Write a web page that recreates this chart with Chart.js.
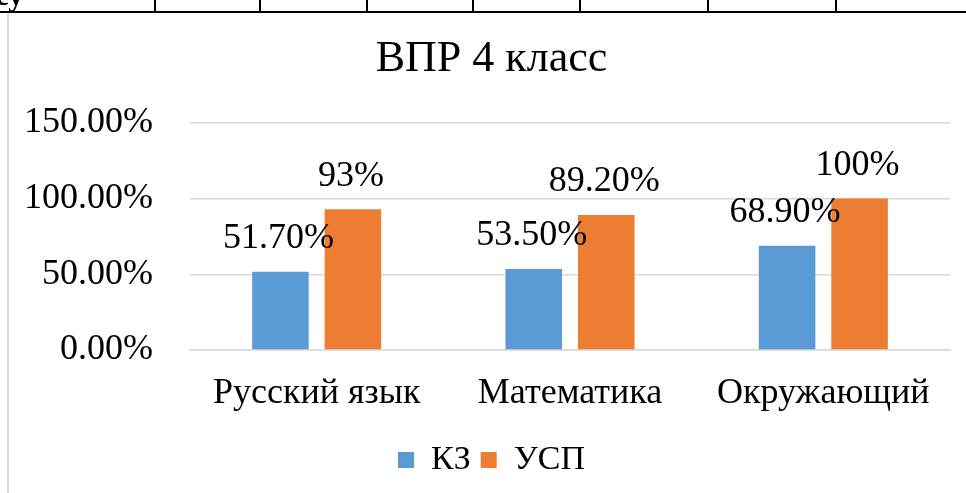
<!DOCTYPE html>
<html lang="ru">
<head>
<meta charset="utf-8">
<title>ВПР 4 класс</title>
<script src="https://cdn.jsdelivr.net/npm/chart.js@4/dist/chart.umd.min.js"></script>
<style>
    html, body { margin: 0; padding: 0; background: #fff; overflow: hidden; }
    #wrap { position: relative; width: 966px; height: 493px; }
    #chart { position: absolute; left: 0; top: 0; }
    .hline { position: absolute; left: 0; top: 11px; width: 966px; height: 2px; background: #000; }
    .vline { position: absolute; top: 0; width: 2px; height: 11px; background: #000; }
    .frame { position: absolute; left: 7px; top: 13px; width: 2px; height: 480px; background: #d9d9d9; }
    .cut { position: absolute; left: -5px; top: -23px; font: bold 31px 'Liberation Serif', serif; color: #000; }
</style>
</head>
<body>
<div id="wrap">
    <canvas id="chart" width="966" height="493"></canvas>
    <div class="cut">су</div>
    <div class="hline"></div>
    <div class="frame"></div>
</div>
<script>
// chart data
const categories = ['Русский язык', 'Математика', 'Окружающий'];
const kzValues = [0.517, 0.535, 0.689];
const uspValues = [0.93, 0.892, 1.0];
const kzLabels = ['51.70%', '53.50%', '68.90%'];
const uspLabels = ['93%', '89.20%', '100%'];
const yTicks = [0, 0.5, 1.0, 1.5];

// table cell borders at the top of the page
const tableCols = [154, 259, 366, 472, 579, 707, 835];
const wrap = document.getElementById('wrap');
tableCols.forEach(x => {
    const d = document.createElement('div');
    d.className = 'vline';
    d.style.left = x + 'px';
    wrap.appendChild(d);
});

const serif = "'Liberation Serif', 'Times New Roman', serif";

// draws the value labels above each bar
const valueLabels = {
    id: 'valueLabels',
    afterDatasetsDraw(chart) {
        const ctx = chart.ctx;
        ctx.save();
        ctx.font = '36px ' + serif;
        ctx.fillStyle = '#000';
        ctx.textAlign = 'center';
        ctx.textBaseline = 'middle';
        chart.data.datasets.forEach((ds, i) => {
            const meta = chart.getDatasetMeta(i);
            meta.data.forEach((bar, j) => {
                ctx.fillText(ds.valueText[j], bar.x - 2, bar.y - 33);
            });
        });
        ctx.restore();
    }
};

new Chart(document.getElementById('chart'), {
    type: 'bar',
    data: {
        labels: categories,
        datasets: [{
            label: 'КЗ',
            data: kzValues,
            valueText: kzLabels,
            backgroundColor: '#5b9bd5'
        }, {
            label: 'УСП',
            data: uspValues,
            valueText: uspLabels,
            backgroundColor: '#ed7d31'
        }]
    },
    options: {
        responsive: false,
        animation: false,
        categoryPercentage: 0.5725,
        barPercentage: 0.78,
        layout: { padding: { left: 20, right: 3, top: 0, bottom: 6 } },
        plugins: {
            title: {
                display: true,
                text: 'ВПР 4 класс',
                color: '#000',
                font: { family: serif, size: 44, weight: 'normal', lineHeight: 1.2 },
                padding: { top: 33, bottom: 37 }
            },
            legend: {
                position: 'bottom',
                labels: {
                    color: '#000',
                    font: { family: serif, size: 34, lineHeight: 1.2 },
                    boxWidth: 16,
                    boxHeight: 16,
                    padding: 10
                }
            },
            tooltip: { enabled: false }
        },
        scales: {
            x: {
                grid: { display: false, drawTicks: false },
                border: { display: true, color: '#d9d9d9', width: 1.5 },
                ticks: {
                    color: '#000',
                    font: { family: serif, size: 36, lineHeight: 1.2 },
                    padding: 22,
                    maxRotation: 0
                },
                afterFit(scale) { scale.height = 83; }
            },
            y: {
                min: 0,
                max: 1.5,
                afterBuildTicks(scale) { scale.ticks = yTicks.map(v => ({ value: v })); },
                grid: { color: '#d9d9d9', lineWidth: 1.5, drawTicks: false },
                border: { display: false },
                ticks: {
                    color: '#000',
                    font: { family: serif, size: 36 },
                    padding: 37,
                    callback: v => (v * 100).toFixed(2) + '%'
                },
                afterFit(scale) { scale.width = 170; }
            },
            // empty spacer on the right so the title stays centred on the whole chart box
            spacer: {
                type: 'linear',
                position: 'right',
                grid: { display: false, drawTicks: false },
                border: { display: false },
                ticks: { display: false },
                afterFit(scale) { scale.width = 13; }
            }
        }
    },
    plugins: [valueLabels]
});
</script>
</body>
</html>
